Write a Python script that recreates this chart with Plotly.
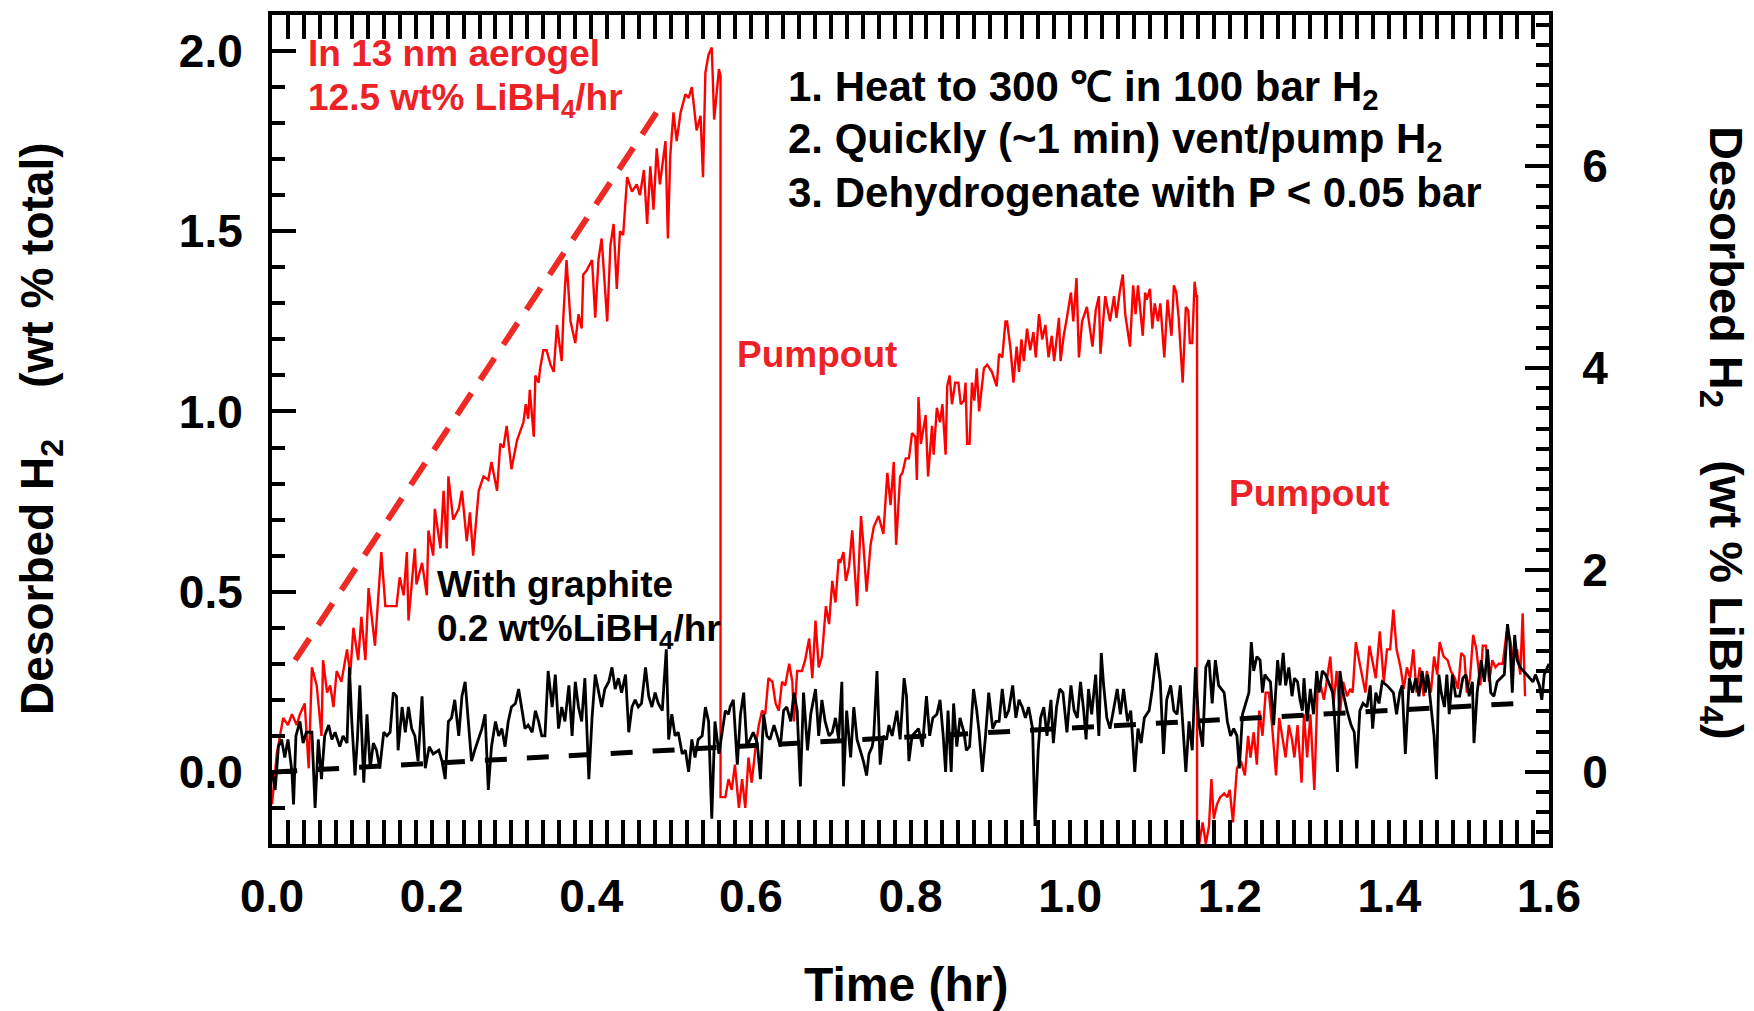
import plotly.graph_objects as go

# ---------------- data ----------------
# Red: LiBH4 in 13 nm aerogel (three segments joined by the two pumpout drops)
red_t1 = [0.000,0.006,0.014,0.020,0.025,0.031,0.035,0.041,0.046,0.050,
          0.056,0.062,0.064,0.069,0.073,0.077,0.081,0.087,0.094,0.098,
          0.102,0.108,0.112,0.117,0.121,0.129,0.137,0.142,0.148,0.156,
          0.160,0.165,0.169,0.171,0.179,0.181,0.188,0.194,0.196,0.202,
          0.204,0.211,0.215,0.219,0.221,0.227,0.234,0.238,0.244,0.248,
          0.252,0.259,0.265,0.271,0.275,0.282,0.286,0.290,0.294,0.300,
          0.307,0.315,0.318,0.321,0.323,0.328,0.330,0.334,0.336,0.340,
          0.344,0.349,0.353,0.357,0.363,0.365,0.369,0.374,0.380,0.384,
          0.388,0.390,0.394,0.401,0.405,0.409,0.413,0.420,0.424,0.428,
          0.432,0.436,0.440,0.445,0.451,0.457,0.461,0.466,0.470,0.474,
          0.478,0.482,0.486,0.493,0.496,0.499,0.503,0.507,0.512,0.518,
          0.522,0.526,0.532,0.537,0.540,0.543,0.547,0.551,0.554,0.560,
          0.562]
red_v1 = [-0.09,0.05,0.15,0.13,0.16,0.13,0.16,0.19,0.01,0.29,
          0.24,0.10,0.31,0.22,0.24,0.18,0.28,0.25,0.34,0.27,
          0.40,0.31,0.43,0.31,0.51,0.35,0.61,0.46,0.46,0.46,
          0.54,0.49,0.61,0.42,0.62,0.52,0.58,0.49,0.67,0.60,
          0.73,0.62,0.78,0.62,0.82,0.70,0.73,0.78,0.64,0.72,
          0.60,0.78,0.82,0.81,0.86,0.78,0.91,0.90,0.96,0.84,
          0.92,0.97,1.02,0.98,1.06,0.93,1.10,1.08,1.12,1.17,
          1.17,1.13,1.11,1.24,1.14,1.26,1.42,1.25,1.19,1.27,
          1.23,1.38,1.39,1.42,1.26,1.42,1.48,1.25,1.46,1.52,
          1.34,1.50,1.49,1.65,1.61,1.63,1.60,1.67,1.52,1.68,
          1.56,1.73,1.63,1.75,1.48,1.71,1.83,1.75,1.83,1.88,
          1.87,1.90,1.78,1.82,1.65,1.94,1.99,2.01,1.81,1.95,
          1.93]
red_t2 = [0.562,0.568,0.572,0.576,0.580,0.585,0.589,0.593,0.597,0.601,
          0.606,0.610,0.614,0.618,0.622,0.627,0.631,0.635,0.639,0.643,
          0.648,0.652,0.654,0.658,0.664,0.668,0.673,0.677,0.681,0.685,
          0.689,0.694,0.698,0.702,0.706,0.710,0.712,0.716,0.719,0.723,
          0.727,0.733,0.738,0.741,0.745,0.750,0.754,0.760,0.766,0.771,
          0.775,0.779,0.782,0.787,0.790,0.794,0.798,0.802,0.806,0.808,
          0.810,0.813,0.819,0.822,0.827,0.829,0.833,0.837,0.840,0.844,
          0.846,0.849,0.852,0.856,0.860,0.863,0.867,0.869,0.871,0.874,
          0.877,0.880,0.883,0.886,0.892,0.896,0.902,0.908,0.911,0.915,
          0.919,0.921,0.925,0.929,0.933,0.936,0.939,0.942,0.946,0.950,
          0.954,0.957,0.961,0.965,0.969,0.973,0.977,0.980,0.986,0.988,
          0.992,0.996,1.001,1.004,1.008,1.011,1.015,1.021,1.028,1.032,
          1.036,1.038,1.044,1.050,1.055,1.058,1.062,1.066,1.069,1.075,
          1.079,1.082,1.085,1.091,1.094,1.096,1.100,1.103,1.106,1.110,
          1.113,1.118,1.122,1.127,1.130,1.133,1.136,1.141,1.145,1.148,
          1.150,1.153,1.156,1.158,1.159]
red_v2 = [-0.07,-0.07,-0.02,-0.05,0.02,-0.10,-0.02,-0.10,0.04,-0.03,
          0.07,0.13,0.17,0.16,0.26,0.25,0.19,0.17,0.25,0.24,
          0.30,0.25,0.14,0.28,0.28,0.31,0.37,0.26,0.42,0.29,
          0.32,0.46,0.41,0.53,0.47,0.59,0.58,0.61,0.53,0.57,
          0.67,0.46,0.71,0.63,0.50,0.63,0.68,0.71,0.66,0.83,
          0.74,0.86,0.63,0.82,0.83,0.87,0.87,0.94,0.93,0.81,
          1.04,0.91,0.99,0.82,0.96,0.88,1.01,0.97,1.02,0.88,
          1.07,1.10,1.02,1.08,1.08,1.02,1.03,1.08,0.91,0.91,
          1.08,1.03,1.12,1.00,1.12,1.13,1.11,1.07,1.16,1.15,
          1.25,1.25,1.18,1.08,1.18,1.11,1.20,1.14,1.23,1.17,
          1.22,1.15,1.27,1.20,1.24,1.15,1.21,1.14,1.26,1.14,
          1.21,1.26,1.33,1.25,1.37,1.15,1.25,1.29,1.18,1.28,
          1.32,1.16,1.32,1.25,1.32,1.26,1.33,1.38,1.27,1.18,
          1.35,1.27,1.35,1.21,1.33,1.31,1.34,1.23,1.30,1.25,
          1.30,1.15,1.31,1.21,1.35,1.33,1.26,1.08,1.29,1.28,
          1.19,1.19,1.36,1.32,1.32]
red_t3 = [1.159,1.161,1.166,1.170,1.174,1.177,1.180,1.184,1.188,1.193,
          1.197,1.200,1.204,1.209,1.214,1.219,1.223,1.226,1.230,1.234,
          1.237,1.241,1.245,1.249,1.253,1.258,1.262,1.266,1.270,1.274,
          1.278,1.281,1.285,1.290,1.293,1.297,1.301,1.306,1.310,1.314,
          1.318,1.322,1.326,1.330,1.334,1.338,1.342,1.347,1.351,1.354,
          1.358,1.362,1.366,1.370,1.375,1.379,1.383,1.388,1.393,1.397,
          1.401,1.405,1.409,1.414,1.418,1.422,1.426,1.430,1.434,1.438,
          1.443,1.447,1.452,1.456,1.460,1.463,1.468,1.473,1.477,1.482,
          1.486,1.490,1.494,1.497,1.501,1.505,1.509,1.514,1.517,1.521,
          1.525,1.529,1.533,1.537,1.542,1.547,1.551,1.555,1.560,1.564,
          1.567,1.570]
red_v3 = [-0.21,-0.21,-0.14,-0.20,-0.15,-0.02,-0.13,-0.09,-0.07,-0.06,
          -0.07,-0.05,-0.14,0.01,0.03,-0.01,0.10,0.04,0.11,0.02,
          0.17,0.10,0.22,0.22,0.13,-0.01,0.15,0.09,0.04,0.13,
          0.09,0.04,0.13,-0.03,0.16,0.04,0.16,-0.05,0.23,0.24,
          0.20,0.26,0.32,0.19,0.28,0.16,0.25,0.21,0.23,0.22,
          0.36,0.31,0.26,0.22,0.35,0.30,0.26,0.39,0.25,0.34,
          0.34,0.45,0.34,0.29,0.23,0.29,0.26,0.34,0.22,0.29,
          0.21,0.28,0.22,0.32,0.27,0.36,0.32,0.31,0.28,0.26,
          0.23,0.33,0.32,0.22,0.26,0.38,0.34,0.24,0.35,0.35,
          0.25,0.31,0.29,0.30,0.30,0.39,0.37,0.31,0.34,0.27,
          0.44,0.21]

# Black: with graphite
blk_t = [0.000,0.004,0.008,0.012,0.016,0.020,0.025,0.027,0.030,0.035,
         0.039,0.043,0.050,0.054,0.058,0.062,0.066,0.071,0.075,0.079,
         0.085,0.089,0.094,0.097,0.100,0.104,0.107,0.110,0.115,0.119,
         0.123,0.127,0.131,0.135,0.140,0.144,0.148,0.152,0.156,0.158,
         0.163,0.167,0.171,0.175,0.179,0.183,0.188,0.192,0.197,0.202,
         0.209,0.213,0.217,0.221,0.225,0.229,0.234,0.238,0.242,0.246,
         0.250,0.254,0.259,0.263,0.267,0.271,0.275,0.280,0.284,0.288,
         0.292,0.296,0.300,0.305,0.309,0.313,0.317,0.321,0.326,0.330,
         0.334,0.338,0.342,0.346,0.351,0.355,0.359,0.363,0.367,0.372,
         0.376,0.380,0.384,0.388,0.392,0.397,0.401,0.405,0.409,0.413,
         0.417,0.422,0.426,0.430,0.434,0.438,0.443,0.447,0.451,0.455,
         0.459,0.463,0.468,0.472,0.476,0.480,0.484,0.489,0.494,0.497,
         0.501,0.505,0.509,0.514,0.518,0.522,0.526,0.530,0.534,0.539,
         0.543,0.547,0.551,0.555,0.560,0.564,0.568,0.572,0.574,0.578,
         0.583,0.587,0.591,0.595,0.599,0.603,0.608,0.612,0.616,0.620,
         0.624,0.629,0.633,0.637,0.641,0.645,0.650,0.654,0.658,0.662,
         0.666,0.671,0.675,0.681,0.685,0.689,0.693,0.698,0.702,0.706,
         0.710,0.714,0.716,0.720,0.725,0.729,0.733,0.737,0.741,0.745,
         0.748,0.752,0.754,0.758,0.762,0.766,0.770,0.773,0.777,0.783,
         0.787,0.792,0.795,0.798,0.802,0.806,0.810,0.815,0.820,0.824,
         0.828,0.833,0.837,0.841,0.844,0.847,0.851,0.854,0.858,0.862,
         0.867,0.870,0.874,0.879,0.883,0.886,0.890,0.894,0.898,0.903,
         0.907,0.911,0.915,0.919,0.923,0.928,0.932,0.936,0.940,0.944,
         0.948,0.953,0.956,0.960,0.963,0.967,0.971,0.976,0.979,0.983,
         0.987,0.991,0.996,1.001,1.005,1.009,1.013,1.017,1.020,1.023,
         1.027,1.032,1.036,1.039,1.042,1.046,1.050,1.055,1.059,1.063,
         1.067,1.072,1.076,1.081,1.085,1.089,1.093,1.099,1.103,1.108,
         1.113,1.117,1.121,1.126,1.130,1.134,1.138,1.145,1.149,1.153,
         1.157,1.161,1.166,1.170,1.174,1.178,1.182,1.186,1.193,1.197,
         1.201,1.205,1.209,1.212,1.216,1.220,1.224,1.227,1.230,1.234,
         1.238,1.241,1.244,1.247,1.251,1.255,1.260,1.263,1.267,1.270,
         1.274,1.278,1.281,1.285,1.288,1.291,1.293,1.297,1.301,1.305,
         1.309,1.312,1.316,1.320,1.324,1.329,1.332,1.335,1.338,1.342,
         1.347,1.352,1.356,1.359,1.363,1.367,1.372,1.376,1.379,1.383,
         1.387,1.391,1.397,1.401,1.405,1.409,1.413,1.416,1.420,1.425,
         1.429,1.433,1.437,1.441,1.445,1.448,1.453,1.456,1.459,1.462,
         1.465,1.469,1.472,1.475,1.479,1.483,1.488,1.492,1.496,1.500,
         1.504,1.506,1.510,1.515,1.519,1.523,1.527,1.531,1.535,1.540,
         1.544,1.548,1.551,1.554,1.557,1.560,1.564,1.568,1.572,1.576,
         1.580,1.583,1.588,1.591,1.594,1.598,1.600]
blk_v = [0.00,-0.05,0.07,0.09,0.04,0.09,0.00,-0.09,0.10,0.14,
         0.08,0.11,0.11,-0.10,0.09,-0.02,0.10,0.13,0.09,0.11,
         0.07,0.10,0.08,0.29,0.14,-0.01,0.09,0.24,-0.03,0.16,
         0.01,0.08,0.06,0.01,0.11,0.10,0.11,0.22,0.21,0.06,
         0.18,0.11,0.18,0.12,0.10,0.03,0.21,0.01,0.07,0.05,
         0.06,0.03,-0.02,0.14,0.15,0.20,0.10,0.21,0.25,0.14,
         0.03,0.06,0.09,0.12,0.16,-0.05,0.07,0.14,0.10,0.12,
         0.07,0.14,0.18,0.19,0.23,0.17,0.12,0.13,0.11,0.17,
         0.14,0.10,0.10,0.28,0.18,0.27,0.12,0.18,0.14,0.24,
         0.10,0.25,0.18,0.14,0.26,-0.02,0.15,0.27,0.22,0.18,
         0.23,0.25,0.29,0.23,0.26,0.22,0.27,0.11,0.18,0.20,
         0.18,0.19,0.29,0.21,0.18,0.22,0.19,0.17,0.34,0.09,
         0.16,0.10,0.11,0.05,0.06,0.00,0.09,0.04,0.09,0.10,
         0.18,0.14,-0.13,0.14,0.05,0.11,0.17,0.16,0.18,0.20,
         0.02,0.16,0.22,0.07,0.09,0.11,0.08,-0.02,0.16,0.10,
         0.09,0.13,0.10,0.07,0.17,0.18,0.14,0.22,0.17,-0.04,
         0.22,0.06,0.16,0.23,0.10,0.20,0.14,0.10,0.11,0.15,
         0.09,0.25,-0.04,0.17,0.04,0.18,0.09,0.06,0.03,-0.01,
         0.05,0.07,0.10,0.28,0.02,0.10,0.09,0.13,0.10,0.17,
         0.09,0.26,0.21,0.03,0.10,0.11,0.12,0.07,0.21,0.10,
         0.15,0.16,0.20,0.10,0.00,0.17,0.00,0.19,0.07,0.15,
         0.11,0.06,0.07,0.23,0.17,0.11,0.00,0.10,0.22,0.12,
         0.14,0.14,0.23,0.15,0.17,0.24,0.15,0.20,0.18,0.15,
         0.18,0.12,-0.15,0.06,0.15,0.18,0.10,0.20,0.08,0.18,
         0.23,0.22,0.11,0.24,0.17,0.15,0.25,0.17,0.09,0.23,
         0.16,0.27,0.10,0.33,0.24,0.15,0.12,0.18,0.23,0.16,
         0.23,0.14,0.17,0.00,0.12,0.08,0.15,0.17,0.23,0.33,
         0.25,0.05,0.20,0.24,0.17,0.16,0.24,0.00,0.14,0.06,
         0.29,0.14,0.07,0.29,0.31,0.19,0.31,0.24,0.22,0.14,
         0.10,0.12,0.10,0.01,0.16,0.19,0.22,0.36,0.28,0.32,
         0.31,0.22,0.27,0.26,0.25,0.13,0.31,0.24,0.33,0.24,
         0.29,0.21,0.26,0.25,0.20,0.17,0.26,0.14,0.23,0.16,
         0.28,0.22,0.28,0.27,0.25,0.22,0.13,0.00,0.28,0.22,
         0.17,0.13,0.11,0.01,0.17,0.19,0.18,0.24,0.12,0.22,
         0.19,0.25,0.24,0.23,0.22,0.16,0.22,0.24,0.05,0.26,
         0.22,0.26,0.21,0.28,0.22,0.27,0.17,0.10,-0.02,0.27,
         0.22,0.18,0.27,0.16,0.27,0.21,0.21,0.26,0.27,0.21,
         0.25,0.08,0.22,0.31,0.25,0.34,0.22,0.21,0.25,0.26,
         0.27,0.41,0.36,0.22,0.38,0.31,0.29,0.28,0.27,0.26,
         0.25,0.27,0.24,0.20,0.27,0.29,0.30]

# Rate guide lines
red_rate_t = [0.029, 0.482]
red_rate_v = [0.31, 1.83]
blk_rate_t = [0.004, 1.56]
blk_rate_v = [0.00, 0.19]

# Axis ticks
x_major = [0.0, 0.2, 0.4, 0.6, 0.8, 1.0, 1.2, 1.4, 1.6]
x_mid = [0.1, 0.3, 0.5, 0.7, 0.9, 1.1, 1.3, 1.5]
y_range = [-0.2, 2.1]
libh4_factor = 3.57  # right-axis scale (wt % LiBH4) per wt % total

# ---------------- figure ----------------
FONT = "Liberation Sans, Arial, Helvetica, sans-serif"
RED_TXT = "#EC2227"

L, R, T, B = 272, 1549, 11, 844
W, H = 1754, 1011


def px(xp):
    return (xp - L) / (R - L)


def py(yp):
    return (B - yp) / (B - T)


fig = go.Figure()

fig.add_trace(go.Scatter(x=red_t1 + red_t2 + red_t3, y=red_v1 + red_v2 + red_v3,
                         mode="lines", line=dict(color="#FF0000", width=2.4),
                         hoverinfo="skip"))
fig.add_trace(go.Scatter(x=blk_t, y=blk_v, mode="lines",
                         line=dict(color="black", width=2.8), hoverinfo="skip"))
fig.add_trace(go.Scatter(x=blk_rate_t, y=blk_rate_v, mode="lines",
                         line=dict(color="black", width=5, dash="22px,20px"),
                         hoverinfo="skip"))
fig.add_trace(go.Scatter(x=red_rate_t, y=red_rate_v, mode="lines",
                         line=dict(color="#EE2A24", width=6, dash="26px,16px"),
                         hoverinfo="skip"))

tickfont = dict(family=FONT, size=46, color="black", weight="bold")

fig.update_layout(
    width=W, height=H,
    margin=dict(l=L, r=W - R, t=T, b=H - B, pad=0),
    paper_bgcolor="white", plot_bgcolor="white",
    showlegend=False,
    xaxis=dict(range=[0, 1.6], tickvals=x_major, ticktext=[f"{v:.1f}" for v in x_major],
               ticks="inside", ticklen=24, tickwidth=3.5, tickcolor="black",
               showline=True, linewidth=4, linecolor="black", mirror="allticks",
               showgrid=False, zeroline=False, tickfont=tickfont,
               ticklabelstandoff=9,
               minor=dict(dtick=0.02, tick0=0, ticks="inside", ticklen=13,
                          tickwidth=3.5, tickcolor="black", showgrid=False)),
    xaxis3=dict(range=[0, 1.6], overlaying="x", anchor="y", tickvals=x_mid,
                ticks="inside", ticklen=19, tickwidth=3.5, tickcolor="black",
                showticklabels=False, showline=True, linewidth=4, linecolor="black",
                mirror="allticks", showgrid=False, zeroline=False),
    yaxis=dict(range=y_range, dtick=0.5, tick0=0, tickformat=".1f",
               ticks="inside", ticklen=24, tickwidth=3.5, tickcolor="black",
               showline=True, linewidth=4, linecolor="black", mirror=False,
               showgrid=False, zeroline=False, tickfont=tickfont,
               ticklabelstandoff=16,
               minor=dict(dtick=0.1, ticks="inside", ticklen=13, tickwidth=3.5,
                          tickcolor="black", showgrid=False)),
    yaxis2=dict(range=[y_range[0] * libh4_factor, y_range[1] * libh4_factor],
                overlaying="y", side="right", anchor="x",
                dtick=2, tick0=0, ticks="inside", ticklen=24, tickwidth=3.5,
                tickcolor="black", showline=True, linewidth=4, linecolor="black",
                showgrid=False, zeroline=False, tickfont=tickfont,
                ticklabelstandoff=20,
                minor=dict(dtick=0.2, ticks="inside", ticklen=13, tickwidth=3.5,
                           tickcolor="black", showgrid=False)),
)

# dummy traces to activate xaxis3 / yaxis2
fig.add_trace(go.Scatter(x=[None], y=[None], xaxis="x3", yaxis="y", showlegend=False,
                         hoverinfo="skip"))
fig.add_trace(go.Scatter(x=[None], y=[None], xaxis="x", yaxis="y2", showlegend=False,
                         hoverinfo="skip"))

NB = "\u00a0"


def ann(text, xp, yp, size, color="black", xanchor="left", angle=0):
    fig.add_annotation(text=text, x=px(xp), y=py(yp), xref="paper", yref="paper",
                       xanchor=xanchor, yanchor="middle", showarrow=False,
                       textangle=angle,
                       font=dict(family=FONT, size=size, color=color, weight="bold"))


# red label
ann("In 13 nm aerogel", 306, 50, 37, RED_TXT)
ann("12.5 wt% LiBH<sub>4</sub>/hr", 306, 96, 37, RED_TXT)
# instructions
ann("1. Heat to 300 \u2103 in 100 bar H<sub>2</sub>", 786, 86, 42)
ann("2. Quickly (~1 min) vent/pump H<sub>2</sub>", 786, 138, 42)
ann("3. Dehydrogenate with P &lt; 0.05 bar", 786, 189, 42)
# pumpouts
ann("Pumpout", 735, 352, 37, RED_TXT)
ann("Pumpout", 1227, 492, 37, RED_TXT)
# graphite
ann("With graphite", 435, 583, 37)
ann("0.2 wt%LiBH<sub>4</sub>/hr", 435, 630, 37)

# axis titles
ann("Time (hr)", 906, 985, 48, xanchor="center")
ann(f"Desorbed H<sub>2</sub>{NB*4}(wt % total)", 40, 427, 46, xanchor="center", angle=-90)
ann(f"Desorbed H<sub>2</sub>{NB*4}(wt % LiBH<sub>4</sub>)", 1723, 431, 47,
    xanchor="center", angle=90)

fig.write_html("out.html")
